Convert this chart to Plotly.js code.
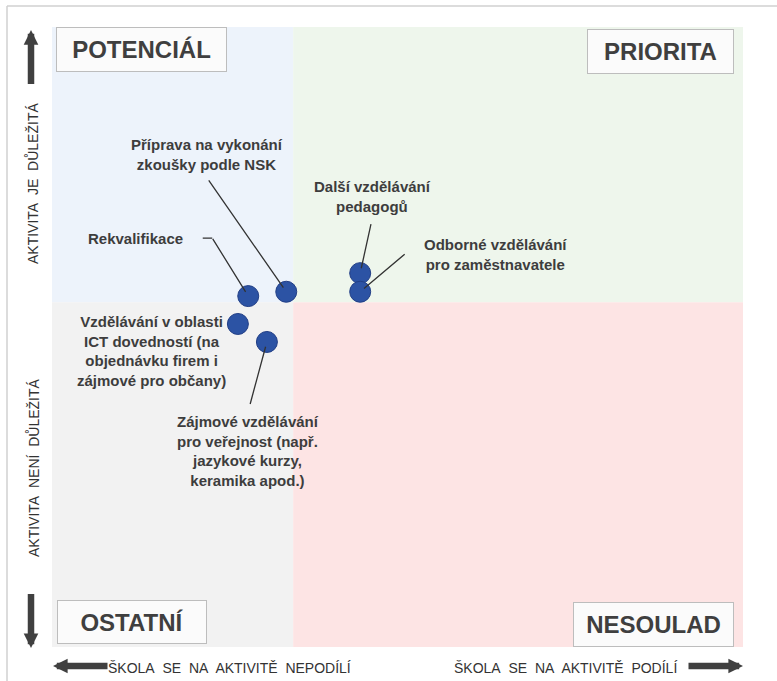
<!DOCTYPE html>
<html>
<head>
<meta charset="utf-8">
<script src="https://cdn.plot.ly/plotly-3.0.1.min.js"></script>
<style>
  html, body { margin: 0; padding: 0; background: #fff; }
  #chart { width: 777px; height: 681px; }
</style>
</head>
<body>
<div id="chart"></div>
<script>
// activities placed by participation (x) and importance (y)
const activities = [
  "Rekvalifikace",
  "Příprava na vykonání<br>zkoušky podle NSK",
  "Další vzdělávání<br>pedagogů",
  "Odborné vzdělávání<br>pro zaměstnavatele",
  "Vzdělávání v oblasti<br>ICT dovedností (na<br>objednávku firem i<br>zájmové pro občany)",
  "Zájmové vzdělávání<br>pro veřejnost (např.<br>jazykové kurzy,<br>keramika apod.)"
];
const participation = [2.84, 3.39, 4.46, 4.46, 2.69, 3.11];
const importance = [5.66, 5.73, 6.03, 5.73, 5.21, 4.92];

const xSplit = 3.49;
const ySplit = 5.56;

const quadrantNames = ["POTENCIÁL", "PRIORITA", "OSTATNÍ", "NESOULAD"];
const quadrantColors = ["#edf3fb", "#eef6ec", "#f2f2f2", "#fde4e4"];

const yAxisLabels = ["AKTIVITA\u00a0 JE\u00a0 DŮLEŽITÁ", "AKTIVITA\u00a0 NENÍ\u00a0 DŮLEŽITÁ"];
const xAxisLabels = ["ŠKOLA\u00a0 SE\u00a0 NA\u00a0 AKTIVITĚ\u00a0 NEPODÍLÍ", "ŠKOLA\u00a0 SE\u00a0 NA\u00a0 AKTIVITĚ\u00a0 PODÍLÍ"];

// plot box in pixels
const L = 52, T = 27, W = 691, H = 620;
const px = x => (x - L) / W;
const py = y => (T + H - y) / H;

const textColor = "#3d3d3d";
const labelFont = { family: "Liberation Sans, Arial, sans-serif", size: 15, color: textColor, weight: 700 };
const sideFont = { family: "Liberation Sans, Arial, sans-serif", size: 14, color: "#333" };

// label offsets from the point, and leader tail offsets (pixels)
const labelShift = [[-113, -58], [-79, -137], [12, -77], [135, -37], [-86, 27], [-19, 109]];
const leaderTail = [[-36, -58], [-78, -112], [11, -50], [45, -38], null, [-17, 63]];

const annotations = [];

activities.forEach((name, i) => {
  annotations.push({
    x: participation[i], y: importance[i], xref: "x", yref: "y",
    xanchor: "center", yanchor: "middle",
    text: name, showarrow: false, font: labelFont, align: "center",
    xshift: labelShift[i][0], yshift: -labelShift[i][1]
  });
  if (leaderTail[i]) {
    annotations.push({
      x: participation[i], y: importance[i], xref: "x", yref: "y",
      text: " ", font: { size: 1 }, borderpad: 0,
      showarrow: true, arrowhead: 0, arrowwidth: 1.3, arrowcolor: "#333",
      ax: leaderTail[i][0], ay: leaderTail[i][1], standoff: 5
    });
  }
});

// short horizontal piece of the Rekvalifikace leader
annotations.push({
  x: participation[0], y: importance[0], xref: "x", yref: "y",
  xshift: leaderTail[0][0], yshift: -leaderTail[0][1],
  text: " ", font: { size: 1 }, borderpad: 0,
  showarrow: true, arrowhead: 0, arrowwidth: 1.3, arrowcolor: "#333",
  ax: -10, ay: 0, standoff: 0
});

// quadrant name boxes: [centerX, centerY, width, height]
const boxes = [[141.5, 49.5, 171, 45], [660.5, 51.5, 147, 45], [132, 622, 150, 44], [653.5, 624.5, 161, 45]];
quadrantNames.forEach((q, i) => {
  const b = boxes[i];
  annotations.push({
    x: px(b[0]), y: py(b[1]), xref: "paper", yref: "paper",
    xanchor: "center", yanchor: "middle",
    text: q, showarrow: false,
    font: { family: "Liberation Sans, Arial, sans-serif", size: 24, color: "#3f3f3f", weight: 700 },
    bgcolor: "#fbfbfb", bordercolor: "#bdbdbd", borderwidth: 1, borderpad: 1,
    width: b[2] - 4, height: b[3] - 4
  });
});

// axis direction texts: [text, centerX, centerY, angle]
const sideTexts = [
  [yAxisLabels[0], 33, 184, -90],
  [yAxisLabels[1], 33, 468, -90],
  [xAxisLabels[0], 229, 668, 0],
  [xAxisLabels[1], 565, 668, 0]
];
sideTexts.forEach(s => {
  annotations.push({
    x: px(s[1]), y: py(s[2]), xref: "paper", yref: "paper",
    xanchor: "center", yanchor: "middle",
    text: s[0], textangle: s[3], showarrow: false, font: sideFont
  });
});

// thick direction arrows: [headX, headY, ax, ay]
const bigArrows = [[31, 30, 0, 55], [31, 648, 0, -55], [53, 666, 55, 0], [743, 666, -55, 0]];
bigArrows.forEach(a => {
  annotations.push({
    x: px(a[0]), y: py(a[1]), xref: "paper", yref: "paper",
    text: " ", font: { size: 1 }, borderpad: 0,
    showarrow: true, arrowhead: 2, arrowsize: 0.45, arrowwidth: 6.5, arrowcolor: "#404040",
    ax: a[2], ay: a[3], standoff: 0
  });
});

const shapes = [
  { type: "rect", xref: "x", yref: "y", x0: 0, x1: xSplit, y0: ySplit, y1: 10, fillcolor: quadrantColors[0], line: { width: 0 }, layer: "below" },
  { type: "rect", xref: "x", yref: "y", x0: xSplit, x1: 10, y0: ySplit, y1: 10, fillcolor: quadrantColors[1], line: { width: 0 }, layer: "below" },
  { type: "rect", xref: "x", yref: "y", x0: 0, x1: xSplit, y0: 0, y1: ySplit, fillcolor: quadrantColors[2], line: { width: 0 }, layer: "below" },
  { type: "rect", xref: "x", yref: "y", x0: xSplit, x1: 10, y0: 0, y1: ySplit, fillcolor: quadrantColors[3], line: { width: 0 }, layer: "below" },
  // outer frame
  { type: "line", xref: "paper", yref: "paper", x0: px(7), x1: px(777), y0: py(6), y1: py(6), line: { color: "#d0d0d0", width: 1.5 } },
  { type: "line", xref: "paper", yref: "paper", x0: px(7), x1: px(7), y0: py(6), y1: py(681), line: { color: "#d0d0d0", width: 1.5 } }
];

const trace = {
  x: participation,
  y: importance,
  mode: "markers",
  type: "scatter",
  marker: { size: 21, color: "#2c53a4", line: { color: "#223f86", width: 1 } },
  hoverinfo: "skip",
  cliponaxis: false
};

Plotly.newPlot("chart", [trace], {
  width: 777,
  height: 681,
  margin: { l: L, r: 777 - L - W, t: T, b: 681 - T - H },
  paper_bgcolor: "#ffffff",
  plot_bgcolor: "#ffffff",
  showlegend: false,
  xaxis: { range: [0, 10], visible: false, fixedrange: true },
  yaxis: { range: [0, 10], visible: false, fixedrange: true },
  shapes: shapes,
  annotations: annotations
}, { displayModeBar: false, staticPlot: true });
</script>
</body>
</html>
